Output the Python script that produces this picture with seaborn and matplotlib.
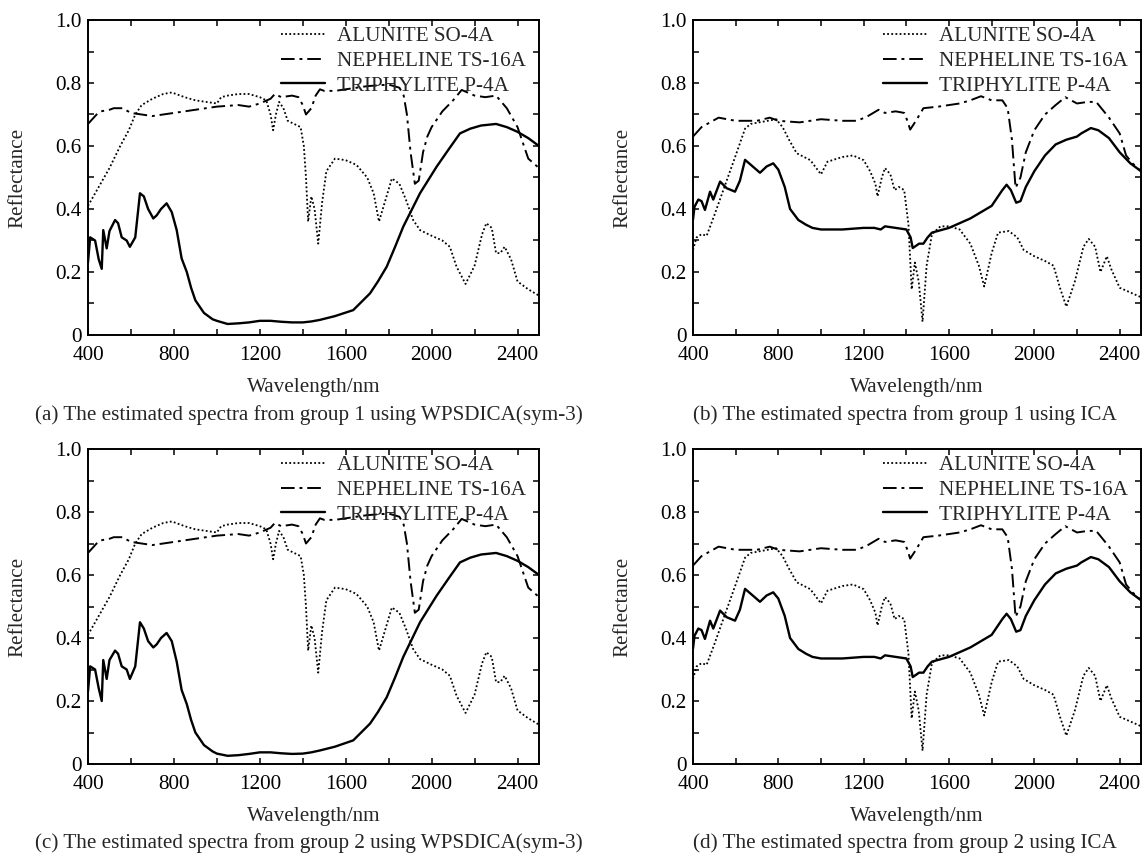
import numpy as np
import pandas as pd
import matplotlib
matplotlib.use("Agg")
import matplotlib.pyplot as plt
import seaborn as sns
from matplotlib.ticker import MultipleLocator, FuncFormatter

# Spectra: (wavelength nm, reflectance)
# WPSDICA(sym-3) estimates
alunite_wps = [(400, 0.41), (450, 0.47), (500, 0.53), (550, 0.60), (590, 0.65), (620, 0.70),
               (650, 0.73), (700, 0.75), (750, 0.765), (790, 0.77), (850, 0.755), (900, 0.745),
               (950, 0.74), (1000, 0.735), (1020, 0.755), (1050, 0.76), (1100, 0.765),
               (1150, 0.765), (1200, 0.755), (1230, 0.745), (1250, 0.70), (1262, 0.65),
               (1275, 0.70), (1290, 0.74), (1310, 0.72), (1330, 0.68), (1360, 0.67),
               (1390, 0.66), (1405, 0.60), (1415, 0.50), (1425, 0.36), (1440, 0.44),
               (1455, 0.40), (1472, 0.29), (1490, 0.42), (1510, 0.52), (1550, 0.56),
               (1600, 0.555), (1650, 0.54), (1700, 0.50), (1730, 0.45), (1755, 0.36),
               (1790, 0.44), (1815, 0.497), (1850, 0.48), (1880, 0.43), (1914, 0.365),
               (1946, 0.333), (2000, 0.315), (2050, 0.30), (2085, 0.28), (2116, 0.217),
               (2158, 0.162), (2200, 0.22), (2235, 0.32), (2255, 0.355), (2280, 0.34),
               (2300, 0.26), (2320, 0.26), (2340, 0.28), (2370, 0.24), (2400, 0.17),
               (2450, 0.145), (2500, 0.125)]
nepheline_wps = [(400, 0.67), (440, 0.70), (460, 0.71), (500, 0.715), (520, 0.72),
                 (560, 0.72), (600, 0.705), (650, 0.70), (700, 0.695), (750, 0.70),
                 (800, 0.705), (900, 0.715), (1000, 0.725), (1100, 0.73), (1150, 0.725),
                 (1200, 0.735), (1250, 0.75), (1270, 0.765), (1300, 0.755), (1350, 0.76),
                 (1380, 0.755), (1400, 0.73), (1415, 0.70), (1440, 0.72), (1460, 0.76),
                 (1480, 0.78), (1500, 0.775), (1550, 0.775), (1600, 0.78), (1700, 0.79),
                 (1800, 0.795), (1850, 0.785), (1870, 0.76), (1885, 0.70), (1902, 0.58),
                 (1922, 0.48), (1940, 0.49), (1960, 0.58), (1980, 0.63), (2000, 0.66),
                 (2050, 0.71), (2100, 0.745), (2140, 0.778), (2200, 0.76), (2250, 0.755),
                 (2300, 0.76), (2350, 0.72), (2400, 0.66), (2420, 0.62), (2450, 0.56),
                 (2500, 0.53)]
triphylite_wps_g1 = [(400, 0.23), (410, 0.31), (433, 0.30), (450, 0.24), (464, 0.21),
                     (471, 0.333), (487, 0.275), (500, 0.33), (526, 0.365), (540, 0.355),
                     (557, 0.31), (580, 0.30), (595, 0.28), (620, 0.31), (642, 0.45),
                     (660, 0.44), (680, 0.40), (704, 0.37), (720, 0.38), (740, 0.40),
                     (766, 0.418), (790, 0.39), (813, 0.333), (836, 0.243), (860, 0.20),
                     (880, 0.15), (900, 0.11), (940, 0.07), (980, 0.05), (1000, 0.045),
                     (1050, 0.035), (1100, 0.037), (1150, 0.04), (1200, 0.045),
                     (1250, 0.045), (1300, 0.042), (1350, 0.040), (1400, 0.040),
                     (1440, 0.043), (1480, 0.048), (1550, 0.06), (1635, 0.079),
                     (1713, 0.132), (1750, 0.17), (1791, 0.217), (1830, 0.28),
                     (1868, 0.344), (1907, 0.397), (1946, 0.45), (2023, 0.534),
                     (2080, 0.59), (2132, 0.64), (2180, 0.655), (2230, 0.665), (2300, 0.67),
                     (2350, 0.66), (2400, 0.645), (2450, 0.625), (2500, 0.60)]
triphylite_wps_g2 = [(400, 0.23), (410, 0.31), (433, 0.30), (450, 0.24), (464, 0.20),
                     (471, 0.33), (487, 0.27), (500, 0.33), (526, 0.36), (540, 0.35),
                     (557, 0.31), (580, 0.30), (595, 0.27), (620, 0.31), (642, 0.45),
                     (660, 0.43), (680, 0.39), (704, 0.37), (720, 0.38), (740, 0.40),
                     (766, 0.416), (790, 0.39), (813, 0.325), (836, 0.235), (860, 0.19),
                     (880, 0.14), (900, 0.10), (940, 0.06), (980, 0.04), (1000, 0.033),
                     (1050, 0.026), (1100, 0.028), (1150, 0.032), (1200, 0.037),
                     (1250, 0.037), (1300, 0.034), (1350, 0.032), (1400, 0.033),
                     (1440, 0.037), (1480, 0.043), (1550, 0.055), (1635, 0.075),
                     (1713, 0.128), (1750, 0.165), (1791, 0.212), (1830, 0.275),
                     (1868, 0.34), (1907, 0.395), (1946, 0.45), (2023, 0.534),
                     (2080, 0.59), (2132, 0.64), (2180, 0.655), (2230, 0.665), (2300, 0.67),
                     (2350, 0.66), (2400, 0.645), (2450, 0.625), (2500, 0.60)]

# ICA estimates
alunite_ica = [(400, 0.27), (417, 0.31), (440, 0.32), (464, 0.315), (500, 0.38), (542, 0.46),
               (600, 0.57), (644, 0.655), (670, 0.67), (750, 0.68), (790, 0.685), (820, 0.66),
               (850, 0.62), (886, 0.577), (950, 0.555), (1000, 0.51), (1030, 0.55),
               (1100, 0.565), (1150, 0.57), (1200, 0.555), (1230, 0.52), (1255, 0.48),
               (1265, 0.44), (1285, 0.50), (1300, 0.53), (1325, 0.51), (1345, 0.46),
               (1365, 0.47), (1390, 0.46), (1410, 0.35), (1425, 0.145), (1440, 0.23),
               (1458, 0.17), (1476, 0.042), (1495, 0.22), (1520, 0.32), (1560, 0.345),
               (1600, 0.345), (1650, 0.335), (1700, 0.29), (1740, 0.22), (1765, 0.154),
               (1800, 0.26), (1830, 0.325), (1880, 0.33), (1920, 0.31), (1950, 0.27),
               (2000, 0.25), (2050, 0.235), (2090, 0.22), (2120, 0.15), (2150, 0.09),
               (2190, 0.17), (2230, 0.28), (2255, 0.305), (2285, 0.28), (2310, 0.20),
               (2340, 0.25), (2360, 0.21), (2400, 0.15), (2450, 0.135), (2500, 0.12)]
nepheline_ica = [(400, 0.63), (440, 0.66), (480, 0.675), (520, 0.69), (600, 0.68),
                 (700, 0.68), (760, 0.69), (800, 0.68), (900, 0.675), (1000, 0.685),
                 (1100, 0.68), (1170, 0.68), (1220, 0.695), (1270, 0.715), (1300, 0.705),
                 (1350, 0.71), (1390, 0.705), (1405, 0.68), (1418, 0.652), (1445, 0.68),
                 (1480, 0.72), (1550, 0.725), (1650, 0.735), (1700, 0.745), (1750, 0.758),
                 (1800, 0.745), (1850, 0.745), (1875, 0.72), (1895, 0.62), (1912, 0.467),
                 (1935, 0.50), (1960, 0.58), (2000, 0.65), (2050, 0.70), (2100, 0.73),
                 (2145, 0.755), (2200, 0.735), (2250, 0.74), (2290, 0.74), (2350, 0.69),
                 (2400, 0.64), (2430, 0.57), (2460, 0.545), (2500, 0.52)]
triphylite_ica = [(400, 0.366), (407, 0.407), (425, 0.43), (440, 0.425), (456, 0.397),
                  (480, 0.455), (495, 0.43), (527, 0.487), (558, 0.466), (597, 0.455),
                  (620, 0.49), (644, 0.556), (680, 0.535), (714, 0.515), (745, 0.535),
                  (776, 0.545), (800, 0.525), (830, 0.47), (855, 0.40), (894, 0.365),
                  (930, 0.35), (960, 0.34), (1000, 0.335), (1100, 0.335),
                  (1200, 0.34), (1250, 0.34), (1280, 0.335), (1300, 0.345), (1350, 0.34),
                  (1400, 0.335), (1420, 0.31), (1430, 0.276), (1460, 0.29), (1480, 0.29),
                  (1500, 0.31), (1520, 0.325), (1600, 0.34), (1700, 0.37), (1750, 0.39),
                  (1800, 0.41), (1850, 0.46), (1870, 0.477), (1890, 0.46), (1915, 0.42),
                  (1935, 0.425), (1960, 0.47), (2000, 0.52), (2050, 0.57), (2100, 0.605),
                  (2150, 0.62), (2200, 0.63), (2220, 0.64), (2265, 0.657), (2300, 0.65),
                  (2350, 0.625), (2400, 0.58), (2450, 0.545), (2500, 0.52)]

names = ["ALUNITE SO-4A", "NEPHELINE TS-16A", "TRIPHYLITE P-4A"]
captions = ["(a) The estimated spectra from group 1 using WPSDICA(sym-3)",
            "(b) The estimated spectra from group 1 using ICA",
            "(c) The estimated spectra from group 2 using WPSDICA(sym-3)",
            "(d) The estimated spectra from group 2 using ICA"]
panels = [
    [alunite_wps, nepheline_wps, triphylite_wps_g1],
    [alunite_ica, nepheline_ica, triphylite_ica],
    [alunite_wps, nepheline_wps, triphylite_wps_g2],
    [alunite_ica, nepheline_ica, triphylite_ica],
]

sns.set_style("ticks", {"xtick.direction": "in", "ytick.direction": "in"})
plt.rcParams["font.family"] = ["Liberation Serif", "DejaVu Serif"]

styles = [
    dict(linestyle=(0, (1, 1.3)), linewidth=1.3),
    dict(linestyle=(0, (7, 2.5, 1.5, 2.5)), linewidth=1.4),
    dict(linestyle="-", linewidth=1.7),
]
fs = 15.2

W, H = 1146, 857
fig = plt.figure(figsize=(W / 100, H / 100), dpi=100)
# axes boxes in pixels: left, top, right, bottom
boxes = [(88, 20, 539, 335), (693, 20, 1141, 335),
         (88, 449, 539, 764), (693, 449, 1141, 764)]
cap_x = [309, 905, 309, 905]
cap_y = [415, 415, 843, 843]

for i, (l, t, r, b) in enumerate(boxes):
    ax = fig.add_axes([l / W, 1 - b / H, (r - l) / W, (b - t) / H])
    for name, spec, st in zip(names, panels[i], styles):
        df = pd.DataFrame(spec, columns=["wl", "refl"])
        sns.lineplot(data=df, x="wl", y="refl", ax=ax, color="black",
                     label=name, estimator=None, **st)
    ax.set_xlim(400, 2500)
    ax.set_ylim(0, 1.0)
    ax.xaxis.set_major_locator(MultipleLocator(400))
    ax.xaxis.set_minor_locator(MultipleLocator(200))
    ax.yaxis.set_major_locator(MultipleLocator(0.2))
    ax.yaxis.set_minor_locator(MultipleLocator(0.1))
    ax.yaxis.set_major_formatter(FuncFormatter(lambda v, p: "0" if abs(v) < 1e-9 else f"{v:.1f}"))
    ax.tick_params(which="both", direction="in", top=True, right=True,
                   length=4, width=1.1, labelsize=fs, colors="black")
    ax.tick_params(axis="x", pad=8)
    ax.tick_params(axis="y", pad=4.5)
    for sp in ax.spines.values():
        sp.set_linewidth(1.4)
        sp.set_color("black")
    ax.set_xlabel("Wavelength/nm", fontsize=fs)
    ax.set_ylabel("Reflectance", fontsize=fs)
    ax.xaxis.set_label_coords(0.5, -0.135)
    ax.yaxis.set_label_coords(-0.135, 0.5)
    ax.legend(loc="upper right", bbox_to_anchor=(1 - 7 / (r - l), 1.0), frameon=False,
              fontsize=fs, handlelength=2.05, handletextpad=0.57, labelspacing=0.24,
              borderaxespad=0.2, borderpad=0.1)
    fig.text(cap_x[i] / W, 1 - cap_y[i] / H, captions[i], ha="center", va="center",
             fontsize=fs)

fig.savefig("out.png", dpi=100, facecolor="white")
